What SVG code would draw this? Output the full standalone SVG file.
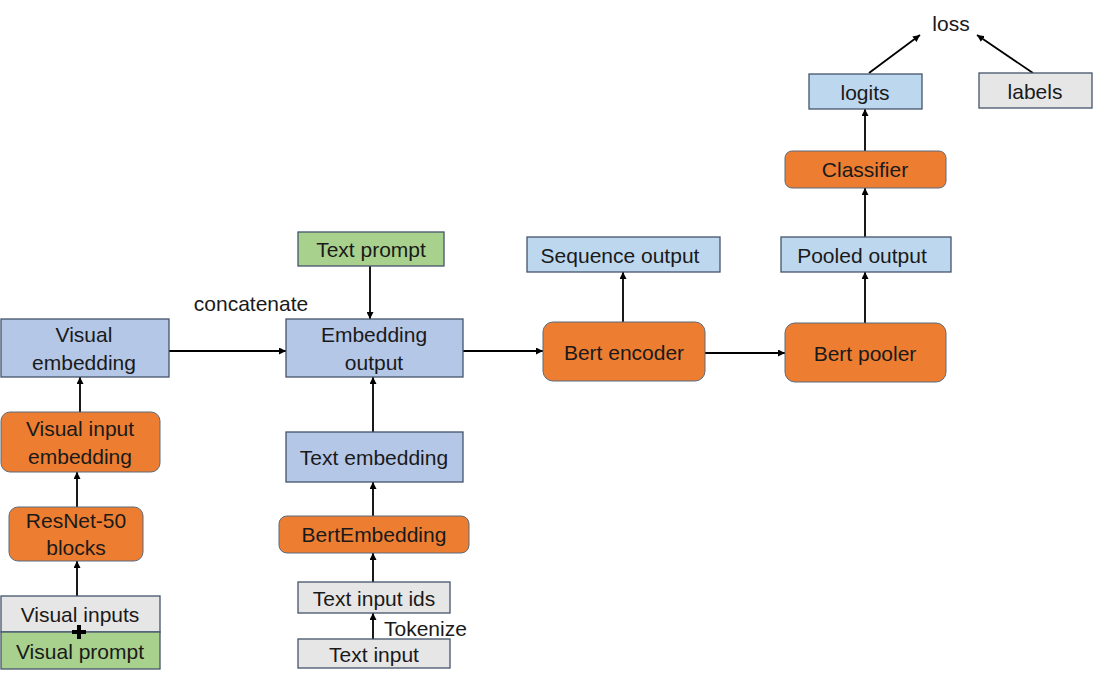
<svg xmlns="http://www.w3.org/2000/svg" width="1095" height="686" viewBox="0 0 1095 686">
<defs>
<marker id="ah" viewBox="0 0 10 10" refX="10" refY="5" markerWidth="7" markerHeight="7" markerUnits="userSpaceOnUse" orient="auto">
<path d="M0,0 L10,5 L0,10 z" fill="#000"/>
</marker>
<style>
text{font-family:"Liberation Sans",Arial,sans-serif;font-size:21px;fill:#1a1a1a;text-anchor:middle;dominant-baseline:central}
.blue{fill:#B4C7E7;stroke:#44546A;stroke-width:1.3}
.lblue{fill:#BDD7EE;stroke:#44546A;stroke-width:1.3}
.gray{fill:#E7E6E6;stroke:#44546A;stroke-width:1.3}
.green{fill:#A9D18E;stroke:#44546A;stroke-width:1.3}
.orange{fill:#ED7D31;stroke:#5B6B7C;stroke-width:1}
.c line{stroke:#000;stroke-width:1.8;marker-end:url(#ah)}
.lbl{text-anchor:start}
</style>
</defs>
<rect width="1095" height="686" fill="#fff"/>
<g class="c" id="connectors">
<line x1="77" y1="596" x2="77" y2="561"/>
<line x1="77" y1="507" x2="77" y2="472"/>
<line x1="80" y1="412" x2="80" y2="377"/>
<line x1="169" y1="351" x2="286" y2="351"/>
<line x1="370" y1="266" x2="370" y2="319"/>
<line x1="373" y1="639" x2="373" y2="613"/>
<line x1="373" y1="582" x2="373" y2="553"/>
<line x1="373" y1="516" x2="373" y2="482"/>
<line x1="373" y1="432" x2="373" y2="377"/>
<line x1="463" y1="351" x2="543" y2="351"/>
<line x1="623" y1="322" x2="623" y2="272"/>
<line x1="705" y1="353" x2="785" y2="353"/>
<line x1="865" y1="323" x2="865" y2="272"/>
<line x1="865" y1="237" x2="865" y2="188"/>
<line x1="865" y1="151" x2="865" y2="109"/>
<line x1="869" y1="73" x2="920" y2="35"/>
<line x1="1033" y1="73" x2="977" y2="35"/>
</g>
<text x="251" y="303">concatenate</text>
<text x="384" y="628" class="lbl">Tokenize</text>
<text x="951" y="23">loss</text>
<g id="visual_embedding"><rect class="blue" x="1" y="319" width="168" height="58"/><text x="84" y="334">Visual</text><text x="84" y="362">embedding</text></g>
<g id="visual_input_embedding"><rect class="orange" x="1" y="412" width="159" height="60" rx="9"/><text x="80" y="428">Visual input</text><text x="80" y="456">embedding</text></g>
<g id="resnet"><rect class="orange" x="9" y="507" width="134" height="54" rx="9"/><text x="76" y="520">ResNet-50</text><text x="76" y="547">blocks</text></g>
<g id="visual_inputs"><rect class="gray" x="1" y="596" width="159" height="36"/><text x="80" y="614">Visual inputs</text></g>
<g id="visual_prompt"><rect class="green" x="1" y="632" width="159" height="37"/><text x="80" y="651">Visual prompt</text></g>
<path d="M79,625 V639 M72,632 H86" stroke="#000" stroke-width="4"/>
<g id="text_prompt"><rect class="green" x="298" y="232" width="146" height="34"/><text x="371" y="249">Text prompt</text></g>
<g id="embedding_output"><rect class="blue" x="286" y="319" width="177" height="58"/><text x="374" y="334">Embedding</text><text x="374" y="362">output</text></g>
<g id="text_embedding"><rect class="blue" x="286" y="432" width="177" height="50"/><text x="374" y="457">Text embedding</text></g>
<g id="bert_embedding"><rect class="orange" x="279" y="516" width="190" height="37" rx="8"/><text x="374" y="534">BertEmbedding</text></g>
<g id="text_input_ids"><rect class="gray" x="298" y="582" width="152" height="31"/><text x="374" y="598">Text input ids</text></g>
<g id="text_input"><rect class="gray" x="298" y="639" width="152" height="29"/><text x="374" y="654">Text input</text></g>
<g id="bert_encoder"><rect class="orange" x="543" y="322" width="162" height="59" rx="10"/><text x="624" y="352">Bert encoder</text></g>
<g id="sequence_output"><rect class="lblue" x="527" y="237" width="193" height="35"/><text x="620" y="255">Sequence output</text></g>
<g id="bert_pooler"><rect class="orange" x="785" y="323" width="161" height="59" rx="10"/><text x="865" y="353">Bert pooler</text></g>
<g id="pooled_output"><rect class="lblue" x="781" y="237" width="170" height="35"/><text x="862" y="255">Pooled output</text></g>
<g id="classifier"><rect class="orange" x="785" y="151" width="161" height="37" rx="7"/><text x="865" y="169">Classifier</text></g>
<g id="logits"><rect class="lblue" x="809" y="74" width="113" height="35"/><text x="865" y="92">logits</text></g>
<g id="labels"><rect class="gray" x="979" y="73" width="113" height="35"/><text x="1035" y="91">labels</text></g>
</svg>
